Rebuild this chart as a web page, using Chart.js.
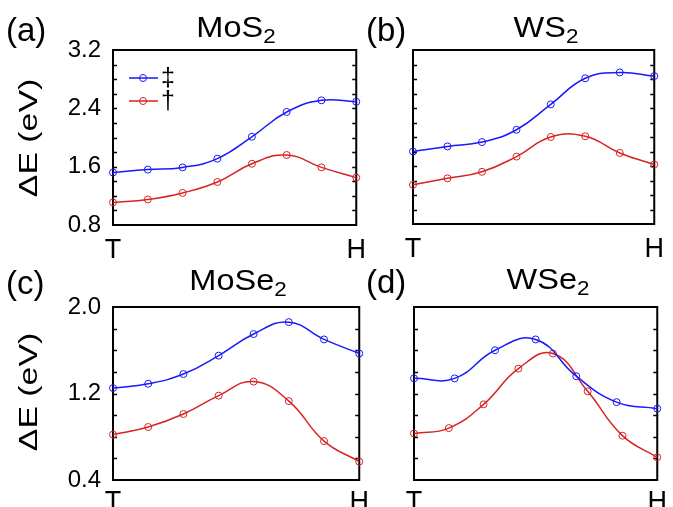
<!DOCTYPE html>
<html><head><meta charset="utf-8">
<script src="https://cdn.jsdelivr.net/npm/chart.js@4.4.1/dist/chart.umd.min.js"></script>
<style>
html,body{margin:0;padding:0;background:#fff;width:673px;height:507px;overflow:hidden;position:relative;font-family:"Liberation Sans",Arial,sans-serif;}
canvas{position:absolute;}
.lbl{position:absolute;font-size:33px;color:#000;line-height:1;white-space:nowrap;}
.ttl{position:absolute;font-size:29px;color:#000;line-height:1;white-space:nowrap;transform:translateX(-50%) scaleX(1.12);}
.ttl sub{font-size:20px;vertical-align:-0.3em;line-height:0;}
.yt{position:absolute;font-size:26px;line-height:1;white-space:nowrap;transform:translate(-50%,-50%) rotate(-90deg) scaleX(1.3);}
</style></head>
<body>
<canvas id="ca" width="375" height="265" style="left:0;top:0"></canvas>
<canvas id="cb" width="298" height="265" style="left:375px;top:0"></canvas>
<canvas id="cc" width="375" height="252" style="left:0;top:255px"></canvas>
<canvas id="cd" width="298" height="252" style="left:375px;top:255px"></canvas>

<div class="lbl" style="left:6px;top:13px">(a)</div>
<div class="lbl" style="left:366px;top:13px">(b)</div>
<div class="lbl" style="left:6px;top:266px">(c)</div>
<div class="lbl" style="left:366px;top:265px">(d)</div>

<div class="ttl" style="left:236px;top:13px">MoS<sub>2</sub></div>
<div class="ttl" style="left:546px;top:13px">WS<sub>2</sub></div>
<div class="ttl" style="left:238px;top:266px">MoSe<sub>2</sub></div>
<div class="ttl" style="left:548px;top:265px">WSe<sub>2</sub></div>

<div class="yt" style="left:28px;top:138px">ΔE (eV)</div>
<div class="yt" style="left:28px;top:392px">ΔE (eV)</div>

<script>
// ---- data ----
const pathTH8 = [0, 0.143, 0.286, 0.429, 0.571, 0.714, 0.857, 1];
const pathTH7 = [0, 0.167, 0.333, 0.5, 0.667, 0.833, 1];
const xTickLabels = ['T', 'H'];
const seriesNames = ['\u2021', '\u2020'];
const yTicksTop = [0.8, 1.6, 2.4, 3.2];
const yTicksBottom = [0.4, 1.2, 2.0];

const mos2Ddag = [1.52, 1.56, 1.59, 1.71, 2.01, 2.35, 2.51, 2.49];
const mos2Dag  = [1.11, 1.15, 1.24, 1.39, 1.64, 1.76, 1.59, 1.45];
const ws2Ddag  = [1.80, 1.87, 1.93, 2.10, 2.45, 2.81, 2.89, 2.84];
const ws2Dag   = [1.34, 1.43, 1.52, 1.73, 2.00, 2.01, 1.78, 1.62];
const mose2Ddag = [1.25, 1.29, 1.38, 1.55, 1.75, 1.86, 1.70, 1.57];
const mose2Dag  = [0.82, 0.89, 1.01, 1.18, 1.31, 1.13, 0.76, 0.57];
const wse2Ddag  = [1.34, 1.34, 1.60, 1.70, 1.36, 1.12, 1.06];
const wse2Dag   = [0.83, 0.88, 1.10, 1.43, 1.57, 1.22, 0.81, 0.61];

const BLUE = 'rgb(25,25,250)';
const RED = 'rgb(215,35,35)';

Chart.defaults.font.family = '"Liberation Sans", Arial, sans-serif';

const pts = (xs, ys) => xs.map((x, i) => ({x: x, y: ys[i]}));

const framePlugin = {
  id: 'frame',
  beforeDatasetsDraw(chart) {
    const {ctx, chartArea: a} = chart;
    const y = chart.scales.y;
    ctx.save();
    ctx.strokeStyle = '#000';
    ctx.lineWidth = 1.3;
    const step = 0.2;
    for (let v = y.min + step; v < y.max - 1e-6; v += step) {
      const py = Math.round(y.getPixelForValue(v)) + 0.5;
      ctx.beginPath();
      ctx.moveTo(a.left, py); ctx.lineTo(a.left + 4, py);
      ctx.moveTo(a.right, py); ctx.lineTo(a.right - 4, py);
      ctx.stroke();
    }
    ctx.lineWidth = 2;
    ctx.strokeRect(a.left, a.top, a.right - a.left, a.bottom - a.top);
    ctx.restore();
  }
};

const legendPlugin = {
  id: 'customLegend',
  afterDatasetsDraw(chart) {
    const {ctx} = chart;
    const x0 = 129, x1 = 158, xm = 143;
    const rows = [{y: 78, c: BLUE, t: seriesNames[0]}, {y: 101, c: RED, t: seriesNames[1]}];
    ctx.save();
    rows.forEach(r => {
      ctx.strokeStyle = r.c;
      ctx.lineWidth = 1.5;
      ctx.beginPath(); ctx.moveTo(x0, r.y); ctx.lineTo(x1, r.y); ctx.stroke();
      ctx.lineWidth = 1;
      ctx.beginPath(); ctx.arc(xm, r.y, 3.5, 0, Math.PI * 2); ctx.stroke();
      ctx.fillStyle = '#000';
      ctx.font = '25px "Liberation Sans", Arial, sans-serif';
      ctx.textBaseline = 'middle';
      ctx.textAlign = 'left';
      ctx.fillText(r.t, 161, r.y + 1);
    });
    ctx.restore();
  }
};

function ds(label, data, color) {
  return {
    label: label, data: data, borderColor: color, backgroundColor: color,
    borderWidth: 1.5, tension: 0.45, fill: false, clip: false,
    pointRadius: 3.5, pointStyle: 'circle', pointBorderWidth: 1,
    pointBackgroundColor: 'rgba(0,0,0,0)', pointBorderColor: color
  };
}

function panel(id, c) {
  return new Chart(document.getElementById(id), {
    type: 'line',
    data: {datasets: [
      ds(seriesNames[0], pts(c.xB, c.blue), BLUE),
      ds(seriesNames[1], pts(c.xR, c.red), RED)
    ]},
    options: {
      responsive: false, animation: false, devicePixelRatio: 1,
      layout: {padding: {top: c.padTop, right: c.padRight, left: 0, bottom: 0}},
      plugins: {legend: {display: false}, tooltip: {enabled: false}, title: {display: false}},
      scales: {
        x: {
          type: 'linear', min: 0, max: 1,
          afterBuildTicks: s => { s.ticks = [{value: 0}, {value: 1}]; },
          ticks: {callback: v => (v === 0 ? xTickLabels[0] : xTickLabels[1]), font: {size: 27}, color: '#000',
                  padding: c.xPad, maxRotation: 0, autoSkip: false},
          grid: {display: false, drawTicks: false}, border: {display: false},
          afterFit: s => { s.height = c.xH; }
        },
        y: {
          type: 'linear', min: c.yMin, max: c.yMax,
          afterBuildTicks: s => { s.ticks = c.yTicks.map(v => ({value: v})); },
          ticks: {display: c.showY, callback: v => v.toFixed(1), font: {size: 24}, color: '#000', padding: 12},
          grid: {display: false, drawTicks: false}, border: {display: false},
          afterFit: s => { s.width = c.yW; }
        }
      }
    },
    plugins: c.legend ? [framePlugin, legendPlugin] : [framePlugin]
  });
}

panel('ca', {xB: pathTH8, blue: mos2Ddag, xR: pathTH8, red: mos2Dag, yMin: 0.8, yMax: 3.2, yTicks: yTicksTop,
  showY: true, yW: 113, padTop: 50, padRight: 12, xH: 40, xPad: 9, legend: true});
panel('cb', {xB: pathTH8, blue: ws2Ddag, xR: pathTH8, red: ws2Dag, yMin: 0.8, yMax: 3.2, yTicks: yTicksTop,
  showY: false, yW: 38, padTop: 50, padRight: 10, xH: 41, xPad: 9});
panel('cc', {xB: pathTH8, blue: mose2Ddag, xR: pathTH8, red: mose2Dag, yMin: 0.4, yMax: 2.0, yTicks: yTicksBottom,
  showY: true, yW: 113, padTop: 52, padRight: 12, xH: 27, xPad: 6});
panel('cd', {xB: pathTH7, blue: wse2Ddag, xR: pathTH8, red: wse2Dag, yMin: 0.4, yMax: 2.0, yTicks: yTicksBottom,
  showY: false, yW: 39, padTop: 52, padRight: 9, xH: 27, xPad: 6});
</script>
</body></html>
